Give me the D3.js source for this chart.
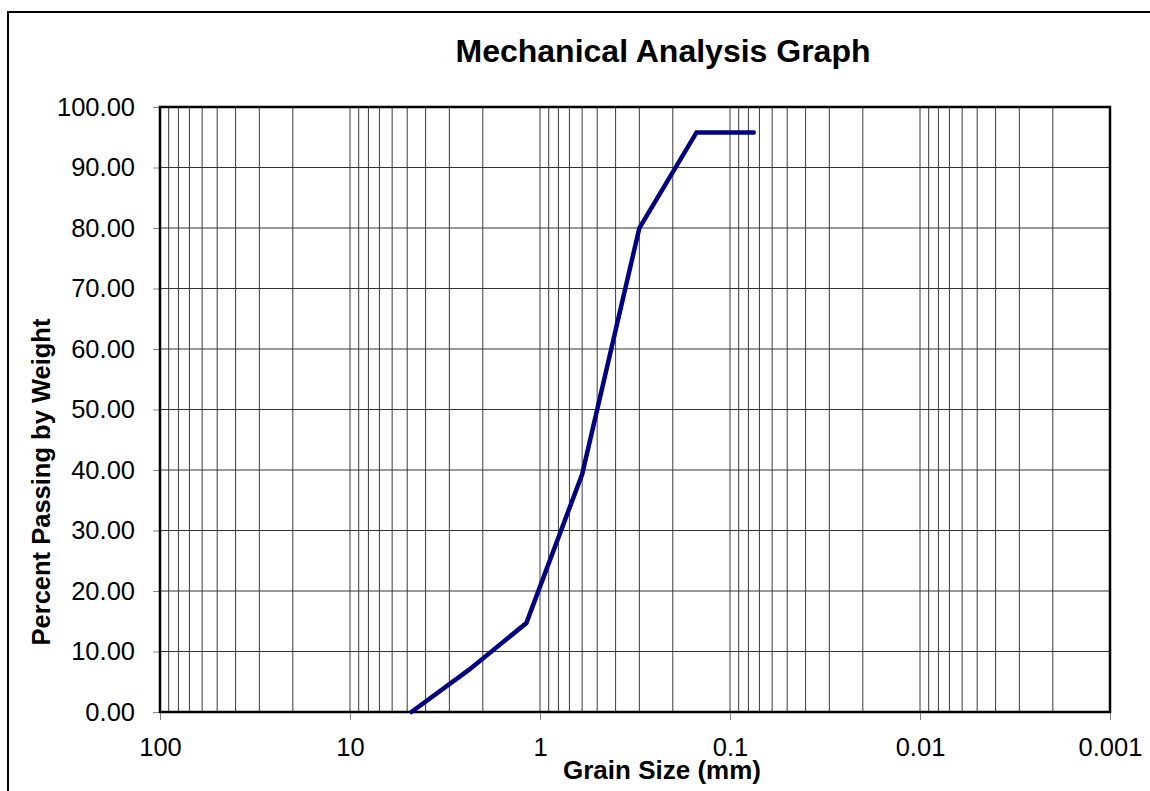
<!DOCTYPE html>
<html>
<head>
<meta charset="utf-8">
<script src="https://cdn.jsdelivr.net/npm/d3@7"></script>
<style>
  html, body { margin: 0; padding: 0; background: #fff; }
  svg { display: block; font-family: "Liberation Sans", Arial, sans-serif; }
</style>
</head>
<body>
<svg id="chart" width="1150" height="791"></svg>
<script>
// ---- Data ----
const grainSizes = [4.75, 2.36, 1.18, 0.6, 0.3, 0.15, 0.075];      // mm
const percentPassing = [0, 7.0, 14.7, 39.3, 80.0, 95.8, 95.8];     // %
const xTickValues = [100, 10, 1, 0.1, 0.01, 0.001];
const xTickLabels = ["100", "10", "1", "0.1", "0.01", "0.001"];
const yTickValues = [0, 10, 20, 30, 40, 50, 60, 70, 80, 90, 100];
const titleText = "Mechanical Analysis Graph";
const xTitleText = "Grain Size (mm)";
const yTitleText = "Percent Passing by Weight";

// ---- Layout ----
const W = 1150, H = 791;
const plot = { left: 160, right: 1110, top: 107, bottom: 712 };

const svg = d3.select("#chart");

// outer frame
svg.append("path")
  .attr("d", `M8,${H + 5} L8,12 L${W + 5},12`)
  .attr("fill", "none").attr("stroke", "#000").attr("stroke-width", 2);

const x = d3.scaleLog().domain([100, 0.001]).range([plot.left, plot.right]);
const y = d3.scaleLinear().domain([0, 100]).range([plot.bottom, plot.top]);

// minor vertical gridlines (1..9 per decade)
const minorVals = [];
for (let e = 2; e >= -3; e--) {
  for (let m = 1; m <= 9; m++) {
    const v = m * Math.pow(10, e);
    if (v <= 100 && v >= 0.001) minorVals.push(v);
  }
}
svg.append("g").selectAll("line").data(minorVals).join("line")
  .attr("x1", d => x(d)).attr("x2", d => x(d))
  .attr("y1", plot.top).attr("y2", plot.bottom)
  .attr("stroke", "#3a3a3a").attr("stroke-width", 1);

// horizontal gridlines
svg.append("g").selectAll("line").data(yTickValues).join("line")
  .attr("x1", plot.left).attr("x2", plot.right)
  .attr("y1", d => y(d)).attr("y2", d => y(d))
  .attr("stroke", "#333").attr("stroke-width", 1);

// X axis
const xAxis = d3.axisBottom(x)
  .tickValues(xTickValues)
  .tickFormat((d, i) => xTickLabels[i])
  .tickSize(8).tickPadding(18);
const gx = svg.append("g").attr("transform", `translate(0,${plot.bottom})`).call(xAxis);
gx.select(".domain").remove();
gx.selectAll(".tick line").attr("stroke", "#888");
gx.selectAll(".tick text").attr("font-size", 25.5).attr("fill", "#000")
  .attr("font-family", "Liberation Sans, Arial, sans-serif");

// Y axis
const yAxis = d3.axisLeft(y)
  .tickValues(yTickValues)
  .tickFormat(d3.format(".2f"))
  .tickSize(7).tickPadding(18);
const gy = svg.append("g").attr("transform", `translate(${plot.left},0)`).call(yAxis);
gy.select(".domain").remove();
gy.selectAll(".tick line").attr("stroke", "#888");
gy.selectAll(".tick text").attr("font-size", 25.5).attr("fill", "#000")
  .attr("font-family", "Liberation Sans, Arial, sans-serif");

// plot border
svg.append("rect")
  .attr("x", plot.left).attr("y", plot.top)
  .attr("width", plot.right - plot.left).attr("height", plot.bottom - plot.top)
  .attr("fill", "none").attr("stroke", "#000").attr("stroke-width", 2.5);

// data line
const line = d3.line().x((d, i) => x(grainSizes[i])).y(d => y(d));
svg.append("path")
  .datum(percentPassing)
  .attr("d", line)
  .attr("fill", "none")
  .attr("stroke", "#000080")
  .attr("stroke-width", 4.5)
  .attr("stroke-linecap", "round")
  .attr("stroke-linejoin", "miter");

// Titles
svg.append("text")
  .attr("x", 663).attr("y", 62)
  .attr("text-anchor", "middle")
  .attr("font-size", 32).attr("font-weight", "bold")
  .text(titleText);

svg.append("text")
  .attr("x", 662).attr("y", 779)
  .attr("text-anchor", "middle")
  .attr("font-size", 26).attr("font-weight", "bold")
  .text(xTitleText);

svg.append("text")
  .attr("transform", "translate(50,482) rotate(-90)")
  .attr("text-anchor", "middle")
  .attr("font-size", 25.5).attr("font-weight", "bold")
  .text(yTitleText);
</script>
</body>
</html>
